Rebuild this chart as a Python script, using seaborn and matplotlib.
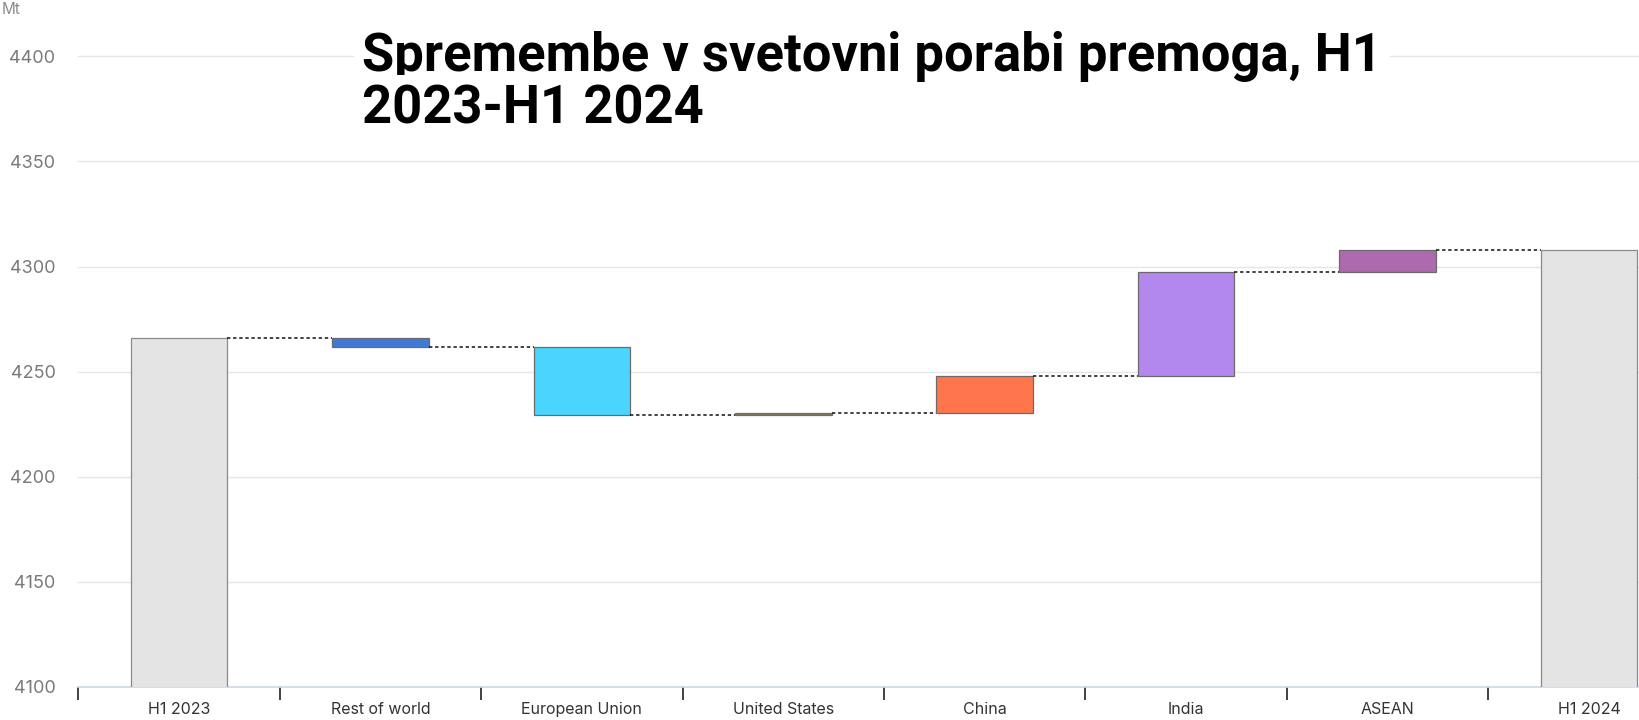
import numpy as np
import pandas as pd
import matplotlib
matplotlib.use("Agg")
import matplotlib.pyplot as plt
import seaborn as sns

# ---- data ----
categories = ["H1 2023", "Rest of world", "European Union", "United States",
              "China", "India", "ASEAN", "H1 2024"]
start_total = 4266.0
changes = [-4.5, -32.0, 1.0, 17.5, 49.5, 10.5]
bar_colors = ["#e4e4e4", "#3f7bd6", "#49d5fd", "#8c7a5a",
              "#ff764c", "#b287ee", "#ae6aaf", "#e4e4e4"]
y_ticks = [4100, 4150, 4200, 4250, 4300, 4350, 4400]
title_lines = ["Spremembe v svetovni porabi premoga, H1", "2023-H1 2024"]
unit_label = "Mt"

# ---- waterfall geometry derived from data ----
running = [start_total]
for c in changes:
    running.append(running[-1] + c)
end_total = running[-1]
lows, heights = [0.0], [start_total]
for i, c in enumerate(changes):
    a, b = running[i], running[i + 1]
    lows.append(min(a, b))
    heights.append(abs(c))
lows.append(0.0)
heights.append(end_total)
levels = running

df = pd.DataFrame({"cat": categories, "h": heights})

sns.set_theme(style="white")
plt.rcParams["font.family"] = ["Inter", "DejaVu Sans"]

W, H = 1639, 720
fig = plt.figure(figsize=(W / 100, H / 100), dpi=100)
left_px, bottom_px, top_px = 78.4, 686.8, 14.4
ax = fig.add_axes([left_px / W, 1 - bottom_px / H, 1 - left_px / W,
                   (bottom_px - top_px) / H])

bw = 0.48
sns.barplot(data=df, x="cat", y="h", hue="cat", palette=bar_colors,
            order=categories, hue_order=categories, legend=False,
            width=bw, ax=ax, saturation=1, linewidth=1)

for i, p in enumerate(ax.patches):
    p.set_y(lows[i])
    p.set_height(heights[i])
    if i in (0, len(categories) - 1):
        p.set_edgecolor("#8a8a8a")
    else:
        p.set_edgecolor("#6b6b6b")
    p.set_linewidth(0.9)
    p.set_zorder(3)

for i in range(len(categories) - 1):
    lvl = levels[i] if i < len(levels) else end_total
    ax.plot([i + bw / 2, i + 1 - bw / 2], [lvl, lvl], color="#111111",
            linestyle=(0, (2.2, 1.8)), linewidth=1.1, zorder=4)

ax.set_yticks(y_ticks)
ax.set_yticklabels([str(t) for t in y_ticks], color="#7a7a7a", fontsize=13)
ax.yaxis.grid(True, color="#e6e6e6", linewidth=1)
ax.set_axisbelow(True)

ax.set_xticks(range(len(categories)))
ax.set_xticklabels(categories, fontsize=11.5, color="#333333")
ax.set_xticks(np.arange(-0.5, len(categories), 1.0), minor=True)
ax.tick_params(axis="x", which="major", length=0, pad=11)
ax.tick_params(axis="x", which="minor", bottom=True, length=9, width=1.3,
               color="#333333", direction="out")
ax.tick_params(axis="y", length=0, pad=16.5)

cat_w = 201.4
ax.set_xlim(-0.5, -0.5 + (W - left_px) / cat_w)
ax.set_ylim(4100, 4420)
ax.set_xlabel("")
ax.set_ylabel("")
for s in ["top", "right", "left"]:
    ax.spines[s].set_visible(False)
ax.spines["bottom"].set_color("#ccd6eb")
ax.spines["bottom"].set_linewidth(1.2)

fig.text(2 / W, 1 - 9 / H, unit_label, fontsize=11, color="#8a8a8a",
         ha="left", va="center")

for k, yb in enumerate([71, 123]):
    fig.text(362 / W, 1 - yb / H, title_lines[k], fontsize=37.8,
             fontweight="bold", family=["Roboto", "DejaVu Sans"],
             color="black", ha="left", va="baseline",
             bbox=dict(facecolor="white", edgecolor="none", pad=6))

fig.savefig("out.png", dpi=100, facecolor="white")
